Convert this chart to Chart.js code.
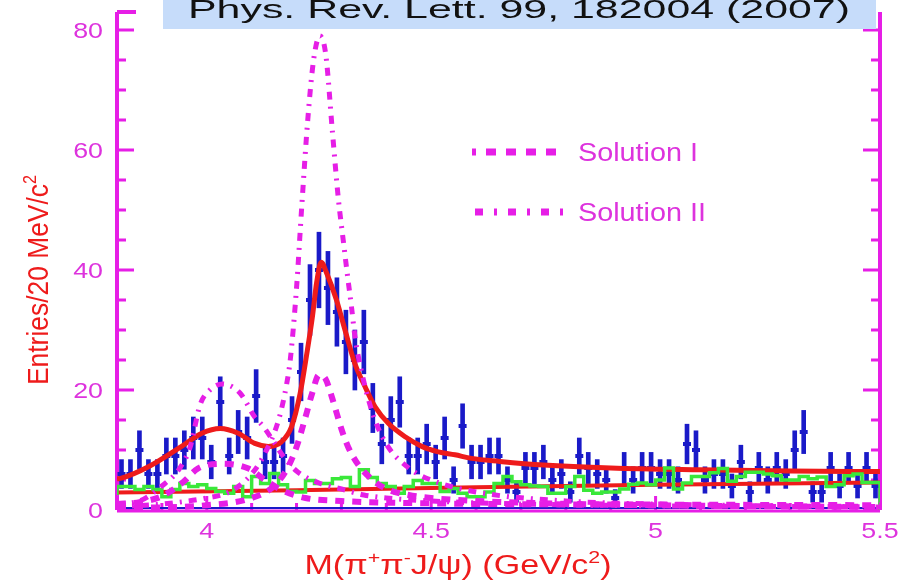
<!DOCTYPE html>
<html>
<head>
<meta charset="utf-8">
<script src="https://cdn.jsdelivr.net/npm/chart.js@4.4.0/dist/chart.umd.min.js"></script>
<style>
  html, body { margin: 0; padding: 0; background: #fff; }
  #wrap { width: 909px; height: 584px; position: relative; }
</style>
</head>
<body>
<div id="wrap"><canvas id="c"></canvas></div>
<script>
// binning: 20 MeV bins from 3.80 to 5.50 GeV
var binLo = 3.8, binW = 0.02;

// data points (entries per bin) and their error bars
var counts = [6, 6, 10, 6, 6, 9, 9, 10, 12, 12,
              8, 18, 9, 13, 12, 19, 8, 8, 9, 15,
              23, 35, 40, 37, 33, 28, 25, 28, 17, 11,
              15, 18, 9, 9, 11, 8, 12, 5, 14, 8,
              8, 9, 9, 5, 3, 7, 7, 8, 5, 6,
              3, 9, 7, 6, 5, 2, 7, 5, 7, 7,
              6, 6, 5, 11, 10, 5, 6, 6, 4, 8,
              3, 7, 5, 7, 6, 10, 13, 3, 3, 7,
              4, 7, 4, 7, 4];
var errs = [2.4, 2.4, 3.2, 2.4, 2.4, 3.0, 3.0, 3.2, 3.5, 3.5,
            2.8, 4.2, 3.0, 3.6, 3.5, 4.4, 2.8, 2.8, 3.0, 3.9,
            4.8, 5.9, 6.3, 6.1, 5.7, 5.3, 5.0, 5.3, 4.1, 3.3,
            3.9, 4.2, 3.0, 3.0, 3.3, 2.8, 3.5, 2.2, 3.7, 2.8,
            2.8, 3.0, 3.0, 2.2, 1.7, 2.6, 2.6, 2.8, 2.2, 2.4,
            1.7, 3.0, 2.6, 2.4, 2.2, 1.4, 2.6, 2.2, 2.6, 2.6,
            2.4, 2.4, 2.2, 3.3, 3.2, 2.2, 2.4, 2.4, 2.0, 2.8,
            1.7, 2.6, 2.2, 2.6, 2.4, 3.2, 3.6, 1.7, 1.7, 2.6,
            2.0, 2.6, 2.0, 2.6, 2.0];

// sideband background histogram (green)
var sideband = [2.5, 3.9, 3.9, 3.4, 3.9, 3.4, 2.2, 3.4, 4.4, 3.9,
                4.2, 3.6, 3.1, 2.8, 3.9, 2.2, 5.6, 4.4, 6.1, 4.2,
                3.1, 3.0, 4.9, 4.4, 4.4, 5.2, 5.4, 3.9, 6.7, 5.4,
                4.4, 3.9, 2.8, 3.9, 4.9, 4.4, 4.4, 3.1, 3.6, 2.8,
                2.2, 2.2, 3.0, 4.4, 5.6, 4.7, 4.2, 4.0, 3.9, 2.8,
                2.8, 3.9, 5.6, 3.3, 2.8, 3.0, 3.0, 3.5, 4.3, 4.5,
                4.2, 5.0, 7.0, 3.5, 4.5, 5.6, 5.6, 6.2, 6.9, 4.8,
                5.6, 6.3, 6.3, 6.0, 5.7, 5.0, 5.0, 5.6, 5.2, 5.5,
                3.9, 4.2, 5.7, 6.0, 4.6];

// total fit (red)
var fitMass = [3.80, 3.81, 3.87, 3.944, 3.989, 4.03, 4.07, 4.107, 4.137, 4.167, 4.189, 4.208, 4.223, 4.235,
               4.245, 4.255, 4.267, 4.289, 4.308, 4.33, 4.353, 4.375, 4.405, 4.442, 4.479, 4.516, 4.553,
               4.59, 4.653, 4.75, 4.9, 5.1, 5.3, 5.5];
var fitTotal = [5.2, 5.3, 7.2, 10.6, 12.8, 13.6, 12.8, 11.1, 10.6, 11.4, 13.9, 19.4, 26.1, 32,
                38, 41.3, 39.5, 35, 30, 24.4, 20.5, 17.2, 14.4, 12.2, 10.6, 9.7, 9.2,
                8.6, 8.1, 7.5, 7.0, 6.7, 6.5, 6.4];

// fitted background (red, lower)
var bkgMass = [3.8, 4.2, 4.6, 5.0, 5.5];
var bkgFit = [2.9, 3.3, 3.8, 4.2, 4.6];

// Solution I components (dashed)
var s1aMass = [3.8, 3.85, 3.9, 3.948, 3.98, 4.035, 4.093, 4.13, 4.17, 4.22, 4.3, 4.5, 5.0, 5.5];
var s1aY = [1.0, 1.3, 2.3, 4.7, 6.9, 7.7, 6.9, 5.0, 3.2, 2.0, 1.5, 1.1, 0.9, 0.8];
var s1bMass = [3.8, 4.0, 4.1, 4.15, 4.18, 4.2, 4.22, 4.235, 4.25, 4.265, 4.278, 4.29, 4.3, 4.315,
               4.338, 4.37, 4.4, 4.45, 4.5, 4.6, 5.0, 5.5];
var s1bY = [0.3, 0.8, 2.0, 4.0, 7.0, 10.5, 15.5, 19.5, 22.5, 21.8, 19, 16, 13.5, 10.5,
            7.5, 5.0, 3.5, 2.5, 2.0, 1.5, 0.8, 0.5];

// Solution II components (dash-dot)
var s2aMass = [3.8, 3.85, 3.9, 3.94, 3.963, 3.985, 4.007, 4.035, 4.074, 4.107, 4.125, 4.148, 4.17,
               4.2, 4.25, 4.3, 4.35, 4.4, 4.5, 4.7, 5.0, 5.5];
var s2aY = [1.0, 1.5, 4.0, 7.0, 10.5, 17.5, 20, 21, 19.5, 15.5, 14, 11.5, 9.0,
            6.5, 4.5, 3.5, 2.5, 2.0, 1.5, 1.0, 0.7, 0.5];
var s2bMass = [3.8, 3.9, 4.0, 4.05, 4.1, 4.13, 4.16, 4.178, 4.186, 4.2, 4.212, 4.225, 4.238, 4.252,
               4.265, 4.28, 4.293, 4.304, 4.312, 4.323, 4.33, 4.345, 4.37, 4.4, 4.45, 4.5, 4.6,
               4.8, 5.0, 5.5];
var s2bY = [0.5, 1.0, 2.0, 3.0, 6.0, 9.5, 15, 21, 25, 37, 51, 65, 75, 79,
            76, 63, 52, 45, 40, 33.5, 29, 23, 16, 11, 7, 5, 3,
            1.5, 1.0, 0.5];

// axis tick labels
var yTicks = [0, 20, 40, 60, 80];
var xTicks = [4, 4.5, 5, 5.5];
var xTickText = ['4', '4.5', '5', '5.5'];

var MAG = '#e61ee6', MAGTXT = '#dd33dd', RED = '#ee1b1b', BLUE = '#1a1ac8', GREEN = '#3ae83a';
var SANS = '"Liberation Sans", Arial, sans-serif';

function pts(xs, ys) {
  return xs.map(function (x, i) { return { x: x, y: ys[i] }; });
}

var centers = counts.map(function (_, i) { return +(binLo + binW * (i + 0.5)).toFixed(3); });
var histPts = sideband.map(function (v, i) { return { x: +(binLo + binW * i).toFixed(3), y: v }; });
histPts.push({ x: 5.5, y: sideband[sideband.length - 1] });
histPts.push({ x: 5.5, y: 0 });

// draws text made of parts [text, isSuperscript], stretched horizontally
function partsWidth(ctx, parts, size, family) {
  var w = 0;
  parts.forEach(function (p) {
    ctx.font = (p[1] ? Math.round(size * 0.62) : size) + 'px ' + family;
    w += ctx.measureText(p[0]).width;
  });
  return w;
}
function drawParts(ctx, parts, x, y, size, family, sx, sy, color, align, rot) {
  var total = partsWidth(ctx, parts, size, family);
  ctx.save();
  ctx.fillStyle = color;
  ctx.textAlign = 'left';
  ctx.textBaseline = 'alphabetic';
  ctx.translate(x, y);
  if (rot) ctx.rotate(rot);
  ctx.scale(sx, sy);
  var cx = align === 'center' ? -total / 2 : (align === 'right' ? -total : 0);
  parts.forEach(function (p) {
    ctx.font = (p[1] ? Math.round(size * 0.62) : size) + 'px ' + family;
    ctx.fillText(p[0], cx, p[1] ? -size * 0.42 : 0);
    cx += ctx.measureText(p[0]).width;
  });
  ctx.restore();
}

var decoPlugin = {
  id: 'deco',
  beforeDatasetsDraw: function (chart) {
    var ctx = chart.ctx, a = chart.chartArea, xs = chart.scales.x, ys = chart.scales.y;
    ctx.save();
    ctx.strokeStyle = MAG;
    ctx.lineWidth = 4;
    ctx.beginPath();
    ctx.moveTo(a.left, a.top); ctx.lineTo(a.left, a.bottom);
    ctx.moveTo(a.right, a.top); ctx.lineTo(a.right, a.bottom);
    ctx.moveTo(a.left, a.top); ctx.lineTo(a.left + 19, a.top);
    ctx.stroke();
    // inward ticks on y
    ctx.lineWidth = 3;
    ctx.beginPath();
    for (var v = 0; v <= 80; v += 5) {
      var py = ys.getPixelForValue(v);
      var len = v % 20 === 0 ? 17 : 9;
      ctx.moveTo(a.left, py); ctx.lineTo(a.left + len, py);
      ctx.moveTo(a.right, py); ctx.lineTo(a.right - len, py);
    }
    // inward ticks on x
    for (var k = 38; k <= 55; k++) {
      var px = xs.getPixelForValue(k / 10);
      var l2 = k % 5 === 0 ? 14 : 7;
      ctx.moveTo(px, a.bottom); ctx.lineTo(px, a.bottom - l2);
    }
    ctx.stroke();
    ctx.lineWidth = 3;
    ctx.beginPath(); ctx.moveTo(a.left, a.bottom + 1); ctx.lineTo(a.right, a.bottom + 1); ctx.stroke();
    ctx.strokeStyle = BLUE;
    ctx.lineWidth = 2;
    ctx.beginPath(); ctx.moveTo(a.left, a.bottom - 2); ctx.lineTo(a.right, a.bottom - 2); ctx.stroke();
    ctx.restore();
  },
  afterDraw: function (chart) {
    var ctx = chart.ctx, xs = chart.scales.x, ys = chart.scales.y;
    // tick labels
    yTicks.forEach(function (v) {
      drawParts(ctx, [[String(v), 0]], 103, ys.getPixelForValue(v) + 8, 22, SANS, 1.22, 1, MAGTXT, 'right');
    });
    xTicks.forEach(function (v, i) {
      drawParts(ctx, [[xTickText[i], 0]], xs.getPixelForValue(v), 538, 22, SANS, 1.22, 1, MAGTXT, 'center');
    });
    // axis titles
    var xt = [['M(\u03c0', 0], ['+', 1], ['\u03c0', 0], ['-', 1], ['J/\u03c8) (GeV/c', 0], ['2', 1], [')', 0]];
    var xw = partsWidth(ctx, xt, 27, SANS);
    drawParts(ctx, xt, 458, 574, 27, SANS, 307 / xw, 1, RED, 'center');
    var yt = [['Entries/20 MeV/c', 0], ['2', 1]];
    var yw = partsWidth(ctx, yt, 26, SANS);
    drawParts(ctx, yt, 48, 280, 26, SANS, 210 / yw, 1.1, RED, 'center', -Math.PI / 2);

    // legend
    ctx.save();
    ctx.strokeStyle = MAG;
    ctx.lineWidth = 7;
    ctx.setLineDash([10, 10]);
    ctx.lineDashOffset = 6;
    ctx.beginPath(); ctx.moveTo(472, 152); ctx.lineTo(566, 152); ctx.stroke();
    ctx.setLineDash([8, 11, 3, 11]);
    ctx.lineDashOffset = 0;
    ctx.beginPath(); ctx.moveTo(475, 212); ctx.lineTo(566, 212); ctx.stroke();
    ctx.restore();
    var l1 = [['Solution I', 0]], l2 = [['Solution II', 0]];
    var lw = partsWidth(ctx, l1, 25, SANS);
    drawParts(ctx, l1, 578, 161, 25, SANS, 120 / lw, 1, MAGTXT, 'left');
    drawParts(ctx, l2, 578, 221, 25, SANS, 120 / lw, 1, MAGTXT, 'left');

    // reference box
    ctx.save();
    ctx.fillStyle = '#c6dcfa';
    ctx.fillRect(163, 0, 713, 29);
    ctx.restore();
    var tt = [['Phys. Rev. Lett. 99, 182004 (2007)', 0]];
    var tw = partsWidth(ctx, tt, 30, 'bold "DejaVu Sans"');
    drawParts(ctx, tt, 519, 18, 30, 'bold "DejaVu Sans"', 662 / tw, 1, '#111111', 'center');
  }
};

var dashedI = [9, 8];
var dashDotII = [8, 7, 2, 7];

new Chart(document.getElementById('c'), {
  type: 'line',
  data: {
    datasets: [
      { label: 'Solution I (Y4008)', data: pts(s1aMass, s1aY), borderColor: MAG, borderWidth: 6,
        borderDash: dashedI, pointRadius: 0, cubicInterpolationMode: 'monotone', order: 1 },
      { label: 'Solution I (Y4260)', data: pts(s1bMass, s1bY), borderColor: MAG, borderWidth: 6,
        borderDash: dashedI, pointRadius: 0, cubicInterpolationMode: 'monotone', order: 1 },
      { label: 'Solution II (Y4008)', data: pts(s2aMass, s2aY), borderColor: MAG, borderWidth: 5,
        borderDash: dashDotII, pointRadius: 0, cubicInterpolationMode: 'monotone', order: 1 },
      { label: 'Solution II (Y4260)', data: pts(s2bMass, s2bY), borderColor: MAG, borderWidth: 5,
        borderDash: dashDotII, pointRadius: 0, cubicInterpolationMode: 'monotone', order: 1 },
      { label: 'sideband', data: histPts, borderColor: GREEN, borderWidth: 3.5, stepped: 'after',
        pointRadius: 0, order: 2 },
      { label: 'fit', data: pts(fitMass, fitTotal), borderColor: RED, borderWidth: 5,
        pointRadius: 0, cubicInterpolationMode: 'monotone', order: 3 },
      { label: 'background', data: pts(bkgMass, bkgFit), borderColor: RED, borderWidth: 4,
        pointRadius: 0, order: 3 },
      { label: 'data', data: pts(centers, counts), showLine: false, pointStyle: 'line', pointRadius: 4,
        borderColor: BLUE, backgroundColor: BLUE, pointBorderWidth: 4, order: 4 },
      { type: 'bar', label: 'errors',
        data: centers.map(function (x, i) { return { x: x, y: [counts[i] - errs[i], counts[i] + errs[i]] }; }),
        backgroundColor: BLUE, borderWidth: 0, barThickness: 4, grouped: false, order: 5 }
    ]
  },
  options: {
    responsive: true,
    maintainAspectRatio: false,
    animation: false,
    layout: { padding: { left: 0, right: 29, top: 12, bottom: 0 } },
    plugins: { legend: { display: false }, tooltip: { enabled: false } },
    scales: {
      x: {
        type: 'linear', min: 3.8, max: 5.5, offset: false,
        ticks: { display: false }, grid: { display: false }, border: { display: false },
        afterFit: function (s) { s.height = 74; }
      },
      y: {
        type: 'linear', min: 0, max: 83,
        ticks: { display: false }, grid: { display: false }, border: { display: false },
        afterFit: function (s) { s.width = 117; }
      }
    }
  },
  plugins: [decoPlugin]
});
</script>
</body>
</html>
